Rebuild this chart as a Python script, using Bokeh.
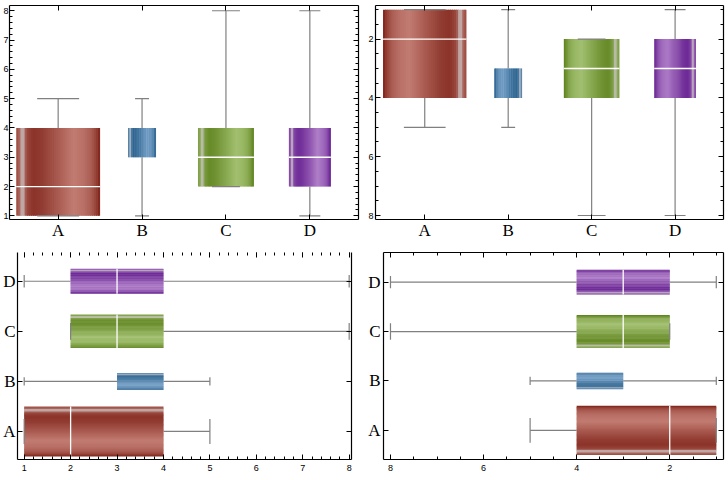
import numpy as np
from bokeh.plotting import figure
from bokeh.models import Range1d, FixedTicker, LinearAxis
from bokeh.layouts import column, row
from bokeh.embed import file_html
from bokeh.resources import INLINE

# ---- data ----
categories = ["A", "B", "C", "D"]
cat_pos = [1, 2, 3, 4]
mins = [1, 1, 2, 1]
q1 = [1, 3, 2, 2]
medians = [2, 3, 3, 3]
q3 = [4, 4, 4, 4]
maxs = [5, 5, 8, 8]

# ---- styles ----
box_widths = [1.0, 1 / 3, 2 / 3, 0.5]
dark_cols = [(140, 52, 42), (45, 100, 145), (105, 140, 42), (110, 42, 150)]
light_cols = [(194, 124, 114), (112, 156, 196), (162, 192, 112), (172, 122, 198)]
HL = np.array([204, 198, 198], dtype=float)
S_T = [0.0, 0.03, 0.12, 0.2, 0.3, 0.5, 0.68, 0.8, 0.9, 0.97, 1.0]
S_V = [0.35, 0.45, 0.3, 0.0, 0.1, 0.55, 1.0, 0.85, 0.55, 0.05, -0.25]
NSTRIP = 40
WHISK = "#808080"
TICK_FONT = "Liberation Sans"
CAT_FONT = "Liberation Serif"


def shade(t, dark, light):
    d = np.array(dark, float)
    l = np.array(light, float)
    s = np.interp(t, S_T, S_V)
    c = d + s * (l - d)
    h = 0.9 * np.exp(-((t - 0.075) / 0.028) ** 2)
    c = c * (1 - h) + HL * h
    c = np.clip(c, 0, 255).astype(int)
    return "#%02x%02x%02x" % tuple(c)


def style_axis(ax, ticks, minor, labels=None, show=True, cat=False, standoff=3):
    ax.ticker = FixedTicker(ticks=ticks, minor_ticks=minor)
    ax.major_tick_in = 5
    ax.major_tick_out = 0
    ax.minor_tick_in = 3
    ax.minor_tick_out = 0
    ax.axis_line_color = "black"
    ax.axis_line_width = 1.2
    ax.major_tick_line_color = "black"
    ax.minor_tick_line_color = "black"
    if show:
        if labels is not None:
            ax.major_label_overrides = labels
        ax.major_label_text_font = CAT_FONT if cat else TICK_FONT
        ax.major_label_text_font_size = "17px" if cat else "9px"
        ax.major_label_text_color = "black"
        ax.major_label_standoff = standoff
    else:
        ax.major_label_overrides = {t: "" for t in ticks}
        ax.major_label_text_font_size = "1px"
        ax.major_label_standoff = 0


def make_fig(w, h, xr, yr, borders):
    p = figure(width=w, height=h, x_range=xr, y_range=yr, output_backend="svg",
               toolbar_location=None, min_border_left=borders[0],
               min_border_right=borders[1], min_border_top=borders[2],
               min_border_bottom=borders[3])
    p.grid.visible = False
    p.outline_line_color = None
    p.background_fill_color = "white"
    p.border_fill_color = "white"
    return p


def draw_boxes(p, vertical, mirror):
    for i in range(len(categories)):
        c = cat_pos[i]
        w = box_widths[i]
        lo = c - w / 2
        step = w / NSTRIP
        a0, a1, cols = [], [], []
        for k in range(NSTRIP):
            t = (k + 0.5) / NSTRIP
            if mirror:
                t = 1 - t
            if vertical:
                a0.append(lo + k * step)
                a1.append(min(lo + (k + 1.6) * step, c + w / 2))
            else:
                a1.append(c + w / 2 - k * step)
                a0.append(max(c + w / 2 - (k + 1.6) * step, c - w / 2))
            cols.append(shade(t, dark_cols[i], light_cols[i]))
        n = NSTRIP
        if vertical:
            p.quad(left=a0, right=a1, bottom=[q1[i]] * n, top=[q3[i]] * n,
                   fill_color=cols, line_color=None)
        else:
            p.quad(left=[q1[i]] * n, right=[q3[i]] * n, bottom=a0, top=a1,
                   fill_color=cols, line_color=None)
    half = [bw / 4 for bw in box_widths]
    cl = [c - h for c, h in zip(cat_pos, half)]
    ch = [c + h for c, h in zip(cat_pos, half)]
    kw = dict(line_color=WHISK, line_width=1.2)
    if vertical:
        p.segment(x0=cat_pos, y0=mins, x1=cat_pos, y1=q1, **kw)
        p.segment(x0=cat_pos, y0=q3, x1=cat_pos, y1=maxs, **kw)
        p.segment(x0=cl, y0=maxs, x1=ch, y1=maxs, **kw)
        p.segment(x0=cl, y0=mins, x1=ch, y1=mins, **kw)
    else:
        p.segment(y0=cat_pos, x0=mins, y1=cat_pos, x1=q1, **kw)
        p.segment(y0=cat_pos, x0=q3, y1=cat_pos, x1=maxs, **kw)
        p.segment(y0=cl, x0=maxs, y1=ch, x1=maxs, **kw)
        p.segment(y0=cl, x0=mins, y1=ch, x1=mins, **kw)
    idx = [i for i in range(len(categories)) if q1[i] < medians[i] < q3[i]]
    lo = [cat_pos[i] - box_widths[i] / 2 for i in idx]
    hi = [cat_pos[i] + box_widths[i] / 2 for i in idx]
    md = [medians[i] for i in idx]
    if vertical:
        p.segment(x0=lo, y0=md, x1=hi, y1=md, line_color="white", line_width=1.3)
    else:
        p.segment(y0=lo, x0=md, y1=hi, x1=md, line_color="white", line_width=1.3)


cat_labels = {c: n for c, n in zip(cat_pos, categories)}
ints = list(range(1, 9))
minor02 = [round(1 + 0.2 * k, 2) for k in range(-1, 37)]
minor05 = [round(0.5 + 0.5 * k, 2) for k in range(0, 17)]
even = [2, 4, 6, 8]

# ---- panel 1: vertical, normal ----
p1 = make_fig(364, 242, Range1d(0.42, 4.58), Range1d(0.875, 8.18), (7, 6, 4, 21))
draw_boxes(p1, True, False)
style_axis(p1.xaxis[0], cat_pos, [], cat_labels, cat=True, standoff=1)
style_axis(p1.yaxis[0], ints, minor02, standoff=1)
ax = LinearAxis(); style_axis(ax, cat_pos, [], show=False); p1.add_layout(ax, "above")
ax = LinearAxis(); style_axis(ax, ints, minor02, show=False); p1.add_layout(ax, "right")

# ---- panel 2: vertical, reversed ----
p2 = make_fig(364, 242, Range1d(0.41, 4.58), Range1d(8.136, 0.858), (11, 5, 5, 22))
draw_boxes(p2, True, True)
style_axis(p2.xaxis[0], cat_pos, [], cat_labels, cat=True, standoff=1)
style_axis(p2.yaxis[0], even, minor05, standoff=2)
ax = LinearAxis(); style_axis(ax, cat_pos, [], show=False); p2.add_layout(ax, "above")
ax = LinearAxis(); style_axis(ax, even, minor05, show=False); p2.add_layout(ax, "right")

# ---- panel 3: horizontal, normal ----
p3 = make_fig(364, 238, Range1d(0.856, 8.05), Range1d(0.44, 4.574), (15, 13, 8, 21))
draw_boxes(p3, False, False)
style_axis(p3.yaxis[0], cat_pos, [], cat_labels, cat=True, standoff=2)
style_axis(p3.xaxis[0], ints, minor02, standoff=5)
ax = LinearAxis(); style_axis(ax, ints, minor02, show=False); ax.axis_line_color = None
p3.add_layout(ax, "above")
ax = LinearAxis(); style_axis(ax, cat_pos, [], show=False); p3.add_layout(ax, "right")

# ---- panel 4: horizontal, reversed ----
p4 = make_fig(364, 238, Range1d(8.15, 0.845), Range1d(0.41, 4.6), (19, 5, 10, 18))
draw_boxes(p4, False, True)
style_axis(p4.yaxis[0], cat_pos, [], cat_labels, cat=True, standoff=3)
style_axis(p4.xaxis[0], even, minor05, standoff=5)
ax = LinearAxis(); style_axis(ax, even, minor05, show=False); p4.add_layout(ax, "above")
ax = LinearAxis(); style_axis(ax, cat_pos, [], show=False); p4.add_layout(ax, "right")

layout = column(row(p1, p2), row(p3, p4))
open("out.html", "w").write(file_html(layout, INLINE))
